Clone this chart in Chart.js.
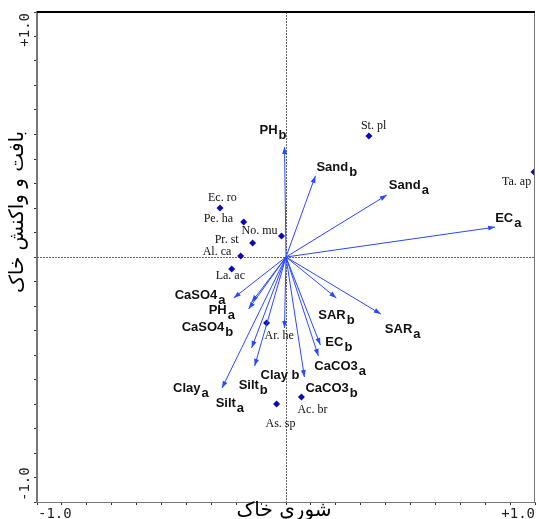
<!DOCTYPE html>
<html>
<head>
<meta charset="utf-8">
<script src="https://cdn.jsdelivr.net/npm/chart.js@4.4.0/dist/chart.umd.min.js"></script>
<style>
  html, body { margin: 0; padding: 0; background: #fff; }
  #wrap { width: 539px; height: 519px; }
</style>
</head>
<body>
<div id="wrap"><canvas id="myChart" width="539" height="519"></canvas></div>
<script>
// soil variables (arrows): name, subscript, tip coordinates
const envNames = ['PH', 'Sand', 'Sand', 'EC', 'SAR', 'SAR', 'EC', 'CaCO3', 'CaCO3', 'Clay b', 'CaSO4', 'PH', 'CaSO4', 'Silt', 'Silt', 'Clay'];
const envSubs  = ['b', 'b', 'a', 'a', 'a', 'b', 'b', 'a', 'b', '', 'a', 'a', 'b', 'a', 'b', 'a'];
const envX = [-0.006, 0.118, 0.405, 0.840, 0.381, 0.202, 0.138, 0.130, 0.074, -0.006, -0.210, -0.150, -0.138, -0.138, -0.126, -0.257];
const envY = [0.449, 0.331, 0.253, 0.122, -0.233, -0.167, -0.359, -0.404, -0.490, -0.290, -0.167, -0.212, -0.184, -0.371, -0.445, -0.535];

// species (points)
const sppNames = ['St. pl', 'Ta. ap', 'Ec. ro', 'Pe. ha', 'No. mu', 'Pr. st', 'Al. ca', 'La. ac', 'Ar. he', 'Ac. br', 'As. sp'];
const sppX = [0.333, 0.996, -0.265, -0.170, -0.018, -0.134, -0.182, -0.218, -0.078, 0.062, -0.038];
const sppY = [0.494, 0.347, 0.200, 0.143, 0.086, 0.057, 0.004, -0.049, -0.269, -0.571, -0.600];

// tick labels and titles
const xTickLabels = ['-1.0', '+1.0'];
const yTickLabels = ['-1.0', '+1.0'];
const xTitle = 'شوری خاک';
const yTitle = 'بافت و واکنش خاک';

// label offsets in pixels from the arrow tip / point (left edge, baseline)
const envLabelOff = [[-25, -13], [1, -5], [2, -6], [0, -5], [4, 19], [-18, 21], [5, 1], [-4, 14], [1, 15], [-24, 51],
                     [-59, 1], [-40, 5], [-70, 29], [-36, 59], [-16, 23], [-49, 4]];
const sppLabelOff = [[-8, -7], [-32, 13], [-12, -7], [-40, 0], [-40, -2], [-38, 0], [-38, -1], [-16, 10], [-2, 16], [-4, 16], [-11, 23]];

const arrowColor = '#2a48ff';
const pointColor = '#0a0ab8';

let datasets = [];
envX.forEach(function (x, i) {
    datasets.push({
        type: 'line',
        data: [{ x: 0, y: 0 }, { x: x, y: envY[i] }],
        borderColor: arrowColor,
        borderWidth: 1,
        pointRadius: 0,
        fill: false
    });
});
datasets.push({
    type: 'scatter',
    data: sppX.map(function (x, i) { return { x: x, y: sppY[i] }; }),
    pointStyle: 'rectRot',
    pointRadius: 3.5,
    backgroundColor: pointColor,
    borderColor: pointColor,
    borderWidth: 0
});

const decor = {
    id: 'decor',
    beforeDatasetsDraw(chart) {
        const ctx = chart.ctx, a = chart.chartArea;
        const xs = chart.scales.x, ys = chart.scales.y;
        const x0 = Math.round(xs.getPixelForValue(0)) + 0.5;
        const y0 = Math.round(ys.getPixelForValue(0)) + 0.5;
        ctx.save();
        ctx.strokeStyle = '#666';
        ctx.lineWidth = 1;
        ctx.setLineDash([2, 1]);
        ctx.beginPath();
        ctx.moveTo(x0, a.top); ctx.lineTo(x0, a.bottom);
        ctx.moveTo(a.left, y0); ctx.lineTo(a.right, y0);
        ctx.stroke();
        ctx.restore();
    },
    afterDatasetsDraw(chart) {
        const ctx = chart.ctx, a = chart.chartArea;
        const xs = chart.scales.x, ys = chart.scales.y;
        const ox = xs.getPixelForValue(0), oy = ys.getPixelForValue(0);
        ctx.save();

        // arrow heads
        ctx.fillStyle = arrowColor;
        envX.forEach(function (x, i) {
            const tx = xs.getPixelForValue(x), ty = ys.getPixelForValue(envY[i]);
            const ang = Math.atan2(ty - oy, tx - ox);
            ctx.beginPath();
            ctx.moveTo(tx, ty);
            ctx.lineTo(tx - 7 * Math.cos(ang) + 2.5 * Math.sin(ang), ty - 7 * Math.sin(ang) - 2.5 * Math.cos(ang));
            ctx.lineTo(tx - 7 * Math.cos(ang) - 2.5 * Math.sin(ang), ty - 7 * Math.sin(ang) + 2.5 * Math.cos(ang));
            ctx.closePath();
            ctx.fill();
        });

        // variable labels
        ctx.fillStyle = '#111';
        ctx.textAlign = 'left';
        ctx.textBaseline = 'alphabetic';
        envNames.forEach(function (name, i) {
            const tx = xs.getPixelForValue(envX[i]) + envLabelOff[i][0];
            const ty = ys.getPixelForValue(envY[i]) + envLabelOff[i][1];
            ctx.font = 'bold 13px "Liberation Sans", Arial, sans-serif';
            ctx.fillText(name, tx, ty);
            if (envSubs[i]) {
                const w = ctx.measureText(name).width;
                ctx.fillText(envSubs[i], tx + w + 1, ty + 5);
            }
        });

        // species labels
        ctx.font = '12px "Liberation Serif", "Times New Roman", serif';
        sppNames.forEach(function (name, i) {
            const px = xs.getPixelForValue(sppX[i]) + sppLabelOff[i][0];
            const py = ys.getPixelForValue(sppY[i]) + sppLabelOff[i][1];
            ctx.fillText(name, px, py);
        });

        // frame
        ctx.strokeStyle = '#777';
        ctx.lineWidth = 1;
        ctx.beginPath();
        ctx.moveTo(a.right - 0.5, a.top); ctx.lineTo(a.right - 0.5, a.bottom);
        ctx.stroke();
        ctx.strokeStyle = '#000';
        ctx.lineWidth = 2;
        ctx.beginPath();
        ctx.moveTo(a.left, a.top); ctx.lineTo(a.right, a.top);
        ctx.stroke();

        // tick labels
        ctx.fillStyle = '#222';
        ctx.font = '14px "DejaVu Sans Mono", monospace';
        ctx.textAlign = 'left';
        ctx.fillText(xTickLabels[0], a.left + 1, 518);
        ctx.textAlign = 'right';
        ctx.fillText(xTickLabels[1], a.right, 518);

        ctx.save();
        ctx.translate(29, a.bottom - 1);
        ctx.rotate(-Math.PI / 2);
        ctx.textAlign = 'left';
        ctx.fillText(yTickLabels[0], 0, 0);
        ctx.restore();
        ctx.save();
        ctx.translate(29, a.top + 1);
        ctx.rotate(-Math.PI / 2);
        ctx.textAlign = 'right';
        ctx.fillText(yTickLabels[1], 0, 0);
        ctx.restore();

        // axis titles
        ctx.fillStyle = '#000';
        ctx.font = '20px "DejaVu Sans", sans-serif';
        ctx.textAlign = 'center';
        ctx.textBaseline = 'middle';
        ctx.fillText(xTitle, 284, 511);
        ctx.save();
        ctx.translate(18, 212);
        ctx.rotate(-Math.PI / 2);
        ctx.fillText(yTitle, 0, 0);
        ctx.restore();

        ctx.restore();
    }
};

const myChart = new Chart(document.getElementById('myChart'), {
    type: 'scatter',
    data: { datasets: datasets },
    options: {
        responsive: false,
        animation: false,
        layout: { padding: { top: 12, right: 1, left: 0, bottom: 0 } },
        plugins: { legend: { display: false }, tooltip: { enabled: false } },
        scales: {
            x: {
                type: 'linear', min: -1, max: 1,
                ticks: { stepSize: 0.1, display: false },
                grid: { drawOnChartArea: false, drawTicks: true, tickLength: 3, color: '#333' },
                border: { display: true, color: '#777', width: 1 },
                afterFit: function (s) { s.height = 17; }
            },
            y: {
                type: 'linear', min: -1, max: 1,
                ticks: { stepSize: 0.1, display: false },
                grid: { drawOnChartArea: false, drawTicks: true, tickLength: 3, color: '#333' },
                border: { display: true, color: '#777', width: 2 },
                afterFit: function (s) { s.width = 37; }
            }
        }
    },
    plugins: [decor]
});
</script>
</body>
</html>
